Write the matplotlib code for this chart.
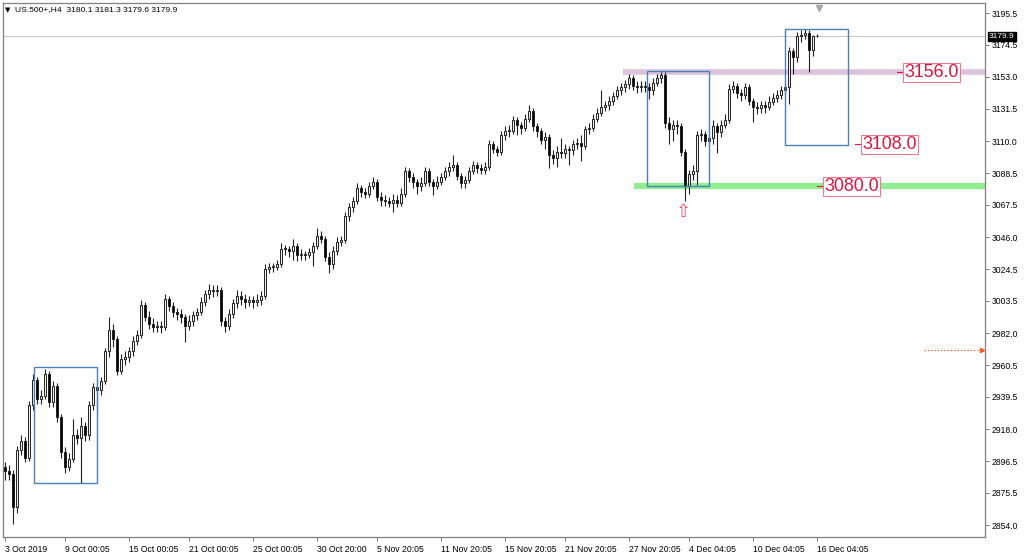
import numpy as np
import matplotlib
matplotlib.use("Agg")
import matplotlib.pyplot as plt
from matplotlib.patches import Rectangle
from matplotlib.transforms import blended_transform_factory

plt.rcParams['font.family'] = ['Liberation Sans', 'DejaVu Sans']

# H4 closes
close = [
    2890, 2888, 2866, 2904, 2910, 2899, 2934, 2951, 2938, 2940,
    2955, 2936, 2947, 2926, 2903, 2893, 2898, 2914, 2912, 2920,
    2914, 2934, 2946, 2944, 2950, 2970, 2984, 2978, 2957, 2965,
    2966, 2970, 2977, 2981, 3001, 2993, 2988, 2986, 2987, 2986,
    3005, 3000, 2996, 2995, 2993, 2987, 2990, 2994, 2996, 3003,
    3008, 3011, 3010, 3011, 2990, 2987, 2995, 3002, 3007, 3005,
    3003, 3004, 3003, 3004, 3007, 3025, 3026, 3026, 3028, 3038,
    3038, 3037, 3040, 3034, 3035, 3034, 3036, 3040, 3047, 3045,
    3033, 3028, 3037, 3043, 3044, 3060, 3066, 3070, 3079, 3076,
    3075, 3080, 3083, 3073, 3071, 3070, 3069, 3071, 3069, 3075,
    3090, 3086, 3083, 3080, 3082, 3090, 3083, 3080, 3083, 3086,
    3090, 3093, 3094, 3087, 3082, 3084, 3090, 3094, 3092, 3091,
    3093, 3108, 3105, 3103, 3114, 3117, 3117, 3124, 3121, 3119,
    3125, 3130, 3120, 3117, 3111, 3113, 3101, 3099, 3103, 3102,
    3105, 3104, 3108, 3109, 3107, 3118, 3119, 3125, 3129, 3133,
    3134, 3137, 3140, 3144, 3146, 3148, 3152, 3147, 3146, 3147,
    3146, 3144, 3149, 3152, 3154, 3122, 3118, 3121, 3120, 3103,
    3080, 3088, 3090, 3114, 3115, 3110, 3112, 3120, 3116, 3121,
    3124, 3145, 3147, 3142, 3141, 3146, 3137, 3133, 3132, 3134,
    3133, 3136, 3139, 3141, 3144, 3146, 3170, 3166, 3180, 3181,
    3182, 3171, 3180.1, 3179.9]

high = [
    2896, 2894, 2891, 2907, 2914, 2913, 2937, 2955, 2953, 2944,
    2958, 2957, 2950, 2949, 2928, 2906, 2902, 2925, 2918, 2926,
    2923, 2937, 2949, 2950, 2953, 2972, 2993, 2988, 2980, 2968,
    2970, 2973, 2980, 2984, 3004, 3003, 2997, 2992, 2990, 2990,
    3008, 3007, 3003, 2999, 2998, 2995, 2994, 2997, 2999, 3006,
    3011, 3015, 3014, 3014, 3013, 2993, 2998, 3005, 3011, 3010,
    3008, 3007, 3007, 3008, 3010, 3028, 3029, 3029, 3031, 3042,
    3041, 3040, 3045, 3042, 3038, 3037, 3039, 3043, 3052, 3050,
    3047, 3036, 3040, 3046, 3047, 3063, 3069, 3073, 3082, 3081,
    3079, 3083, 3086, 3085, 3076, 3074, 3073, 3075, 3074, 3079,
    3093, 3092, 3089, 3085, 3086, 3093, 3092, 3085, 3087, 3089,
    3093, 3096, 3101, 3096, 3089, 3087, 3093, 3097, 3096, 3095,
    3096, 3111, 3110, 3107, 3117, 3120, 3121, 3127, 3126, 3123,
    3128, 3134, 3132, 3122, 3119, 3116, 3115, 3104, 3107, 3112,
    3108, 3107, 3111, 3112, 3114, 3120, 3122, 3128, 3132, 3144,
    3137, 3140, 3143, 3147, 3149, 3151, 3155, 3154, 3150, 3150,
    3150, 3149, 3152, 3155, 3156.5, 3156, 3126, 3124, 3124, 3122,
    3105, 3091, 3094, 3117, 3118, 3117, 3115, 3124, 3122, 3124,
    3128, 3148, 3150, 3149, 3145, 3149, 3148, 3139, 3136, 3137,
    3137, 3140, 3142, 3144, 3147, 3149, 3173, 3172, 3183, 3184,
    3185, 3184, 3181, 3181.3]

low = [
    2884, 2884, 2855, 2862, 2901, 2896, 2897, 2931, 2935, 2935,
    2938, 2933, 2933, 2923, 2899, 2889, 2890, 2896, 2908, 2882,
    2910, 2911, 2931, 2928, 2941, 2948, 2966, 2973, 2954, 2955,
    2961, 2963, 2967, 2974, 2979, 2990, 2985, 2983, 2983, 2982,
    2984, 2997, 2993, 2991, 2989, 2976, 2984, 2987, 2991, 2994,
    3000, 3005, 3006, 3007, 2987, 2983, 2984, 2992, 2999, 3001,
    2999, 3000, 2999, 3000, 3001, 3005, 3022, 3023, 3024, 3026,
    3034, 3033, 3031, 3030, 3031, 3031, 3032, 3027, 3038, 3042,
    3030, 3022, 3025, 3034, 3040, 3042, 3057, 3063, 3068, 3073,
    3072, 3073, 3078, 3070, 3067, 3067, 3066, 3063, 3066, 3067,
    3073, 3083, 3079, 3075, 3077, 3080, 3080, 3074, 3078, 3081,
    3084, 3087, 3090, 3084, 3079, 3079, 3082, 3088, 3089, 3088,
    3088, 3091, 3102, 3100, 3101, 3111, 3113, 3115, 3114, 3115,
    3117, 3123, 3117, 3113, 3108, 3105, 3092, 3095, 3093, 3099,
    3099, 3094, 3101, 3105, 3097, 3105, 3115, 3117, 3123, 3127,
    3130, 3131, 3134, 3138, 3141, 3143, 3145, 3144, 3142, 3143,
    3143, 3138, 3141, 3147, 3149, 3119, 3108, 3110, 3115, 3100,
    3070, 3075, 3084, 3081, 3110, 3107, 3106, 3108, 3102, 3113,
    3119, 3122, 3142, 3139, 3137, 3138, 3134, 3123, 3128, 3129,
    3129, 3131, 3134, 3136, 3138, 3141, 3135, 3155, 3163, 3176,
    3178, 3156, 3167, 3179.6]

first_open = 2893

y_ticks = [3195.5, 3174.5, 3153.0, 3131.5, 3110.0, 3088.5, 3067.5, 3046.0, 3024.5,
           3003.5, 2982.0, 2960.5, 2939.5, 2918.0, 2896.5, 2875.5, 2854.0]
x_tick_bars = [0, 15, 31, 46, 62, 78, 93, 109, 125, 140, 156, 171, 187, 203]
x_tick_labels = ["3 Oct 2019", "9 Oct 00:05", "15 Oct 00:05", "21 Oct 00:05", "25 Oct 00:05",
                 "30 Oct 20:00", "5 Nov 20:05", "11 Nov 20:05", "15 Nov 20:05", "21 Nov 20:05",
                 "27 Nov 20:05", "4 Dec 04:05", "10 Dec 04:05", "16 Dec 04:05"]

header = "US.500+,H4  3180.1 3181.3 3179.6 3179.9"
last_price = 3179.9
levels = [3156.0, 3108.0, 3080.0]

c = np.array(close, dtype=float)
o = np.concatenate([[first_open], c[:-1]])
h = np.maximum(np.array(high, dtype=float), np.maximum(o, c))
l = np.minimum(np.array(low, dtype=float), np.minimum(o, c))
x = np.arange(len(c))

fig = plt.figure(figsize=(10.24, 5.54), dpi=100)
ax = fig.add_axes([3/1024, 17/554, 982/1024, 534/554])

# candles
ax.vlines(x, l, h, color='#202020', lw=0.8, zorder=2)
body_bot = np.minimum(o, c)
body_h = np.maximum(np.abs(c - o), 0.6)
face = ['#f0f0f0' if cc >= oo else 'black' for oo, cc in zip(o, c)]
ax.bar(x, body_h, bottom=body_bot, width=0.72, color=face, edgecolor='#202020', lw=0.7, zorder=3)

ax.axhline(last_price, color='#c8c8c8', lw=0.8, zorder=1)

# support / resistance lines
ax.plot([154.5, 245], [levels[0]] * 2, color='#dcc3dc', lw=4, solid_capstyle='butt', zorder=1)
ax.plot([157.3, 245], [levels[2]] * 2, color='#90ee90', lw=4.5, solid_capstyle='butt', zorder=1)

# boxes
box_col = '#4a80b8'
for x0, x1, y0, y1 in [(7.25, 23, 2882.0, 2959.4), (160.5, 176, 3080.1, 3156.8), (195, 210.75, 3107.5, 3184.8)]:
    ax.add_patch(Rectangle((x0, y0), x1 - x0, y1 - y0, fill=False, ec=box_col, lw=1, zorder=4))

# level labels
red = '#e3143f'
for lev, xl in zip(levels, [224.5, 214, 204.5]):
    ax.plot([xl - 1.6, xl], [lev, lev], color=red, lw=0.8, zorder=5)
    ax.text(xl + 0.3, lev, f"{lev:.1f}", color=red, fontsize=12.8, ha='left', va='center', zorder=6,
            bbox=dict(boxstyle='square,pad=0.06', fc='white', ec='#ec7c8e', lw=0.8))

# arrow under the low
ax.text(169.5, 3062.5, "⇧", color='#f0506e', fontsize=13, ha='center', va='center',
        family=['DejaVu Sans'], zorder=6)

# orange dotted marker on the right
ax.plot([229.75, 244.3], [2970.7, 2970.7], ls=':', color='#ff5a1e', lw=0.9, zorder=5)
ax.plot([244.3], [2970.7], marker='>', color='#ff5a1e', ms=3, zorder=5)

# chart-shift triangle at the top
tr = blended_transform_factory(ax.transData, ax.transAxes)
ax.plot([203.5], [0.99], marker='v', color='#a8a8a8', ms=5, transform=tr, clip_on=False)

ax.set_xlim(-0.5, 245)
ax.set_ylim(2846.0, 3202.2)

ax.yaxis.tick_right()
ax.set_yticks(y_ticks)
ax.set_yticklabels([f"{v:.1f}" for v in y_ticks])
ax.set_xticks(x_tick_bars)
ax.set_xticklabels(x_tick_labels)
for lbl in ax.get_xticklabels():
    lbl.set_horizontalalignment('left')
ax.tick_params(axis='both', direction='out', length=3, width=0.6, color='#606060', labelsize=6.2, pad=2)
ax.tick_params(axis='x', pad=2.5)

for sp in ax.spines.values():
    sp.set_color('#808080')
    sp.set_linewidth(0.9)

# current price tag
ax.annotate(f"{last_price:.1f}", xy=(1.0, last_price), xycoords=('axes fraction', 'data'),
            xytext=(3, 0), textcoords='offset points', color='white', fontsize=6, va='center',
            ha='left', bbox=dict(boxstyle='square,pad=0.15', fc='black', ec='black'),
            annotation_clip=False, zorder=10)

fig.text(5/1024, 1 - 10/554, "▼", fontsize=5, va='center', ha='left', family=['DejaVu Sans'])
fig.text(15/1024, 1 - 10/554, header, fontsize=6.1, va='center', ha='left')

fig.savefig("out.png", dpi=100)
